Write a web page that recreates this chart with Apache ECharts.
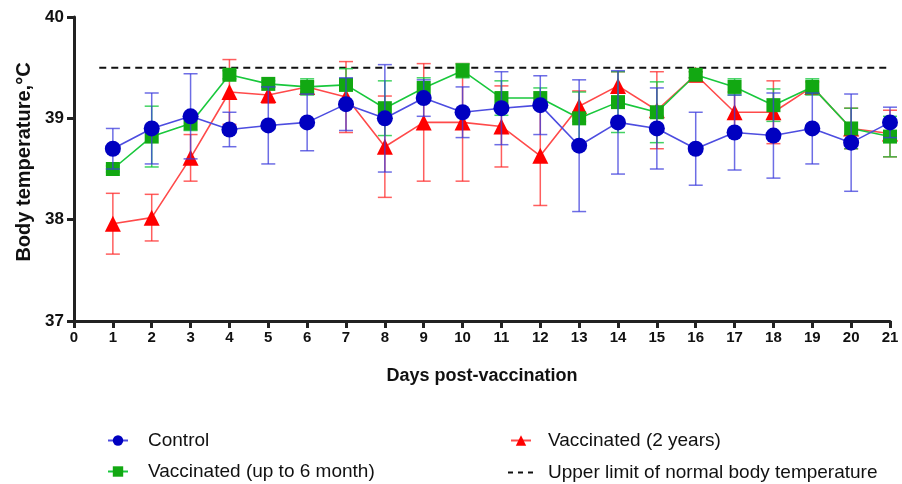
<!DOCTYPE html>
<html>
<head>
<meta charset="utf-8">
<script src="https://cdn.jsdelivr.net/npm/echarts@6/dist/echarts.min.js"></script>
<style>
  html, body { margin: 0; padding: 0; background: #fff; }
  #chart { width: 902px; height: 484px; }
</style>
</head>
<body>
<div id="chart"></div>
<script>
  // days post-vaccination
  const days = [1, 2, 3, 4, 5, 6, 7, 8, 9, 10, 11, 12, 13, 14, 15, 16, 17, 18, 19, 20, 21];

  // Control group: mean and SD
  const controlMean = [38.70, 38.90, 39.02, 38.89, 38.93, 38.96, 39.14, 39.00, 39.20, 39.06, 39.10, 39.13, 38.73, 38.96, 38.90, 38.70, 38.86, 38.83, 38.90, 38.76, 38.96];
  const controlSd = [0.20, 0.35, 0.42, 0.17, 0.38, 0.28, 0.26, 0.53, 0.18, 0.25, 0.36, 0.29, 0.65, 0.51, 0.40, 0.36, 0.37, 0.42, 0.35, 0.48, 0.15];

  // Vaccinated (up to 6 month)
  const sixMonthMean = [38.50, 38.82, 38.95, 39.43, 39.34, 39.31, 39.33, 39.10, 39.30, 39.47, 39.20, 39.20, 39.00, 39.16, 39.06, 39.43, 39.31, 39.13, 39.31, 38.90, 38.82];
  const sixMonthSd = [0.03, 0.30, 0.07, 0.04, 0.03, 0.08, 0.16, 0.27, 0.10, 0.07, 0.17, 0.10, 0.26, 0.30, 0.30, 0.03, 0.08, 0.16, 0.08, 0.20, 0.20];

  // Vaccinated (2 years)
  const twoYearMean = [37.96, 38.02, 38.61, 39.26, 39.23, 39.31, 39.21, 38.72, 38.96, 38.96, 38.92, 38.63, 39.12, 39.32, 39.08, 39.43, 39.06, 39.06, 39.31, 38.90, 38.85];
  const twoYearSd = [0.30, 0.23, 0.23, 0.32, 0.08, 0.05, 0.35, 0.50, 0.58, 0.58, 0.40, 0.49, 0.15, 0.14, 0.38, 0.03, 0.20, 0.31, 0.05, 0.20, 0.23];

  // upper limit of normal body temperature
  const upperLimit = 39.5;
  const upperLimitRange = [0.65, 20.95];

  const xTicks = { min: 0, max: 21, interval: 1 };
  const yTicks = { min: 37, max: 40, interval: 1 };

  const names = {
    control: 'Control',
    sixMonth: 'Vaccinated (up to 6 month)',
    twoYear: 'Vaccinated (2 years)',
    limit: 'Upper limit of normal body temperature',
  };

  const chart = echarts.init(document.getElementById('chart'), null, { renderer: 'canvas' });

  const toPoints = (mean) => days.map((d, i) => [d, mean[i]]);
  const toBars = (mean, sd) => days.map((d, i) => [d, mean[i] - sd[i], mean[i] + sd[i]]);

  /** 误差线：竖线 + 上下横帽 */
  const errorBarSeries = (name, mean, sd, color, z) => ({
    name: name + ' SD',
    type: 'custom',
    z: z,
    silent: true,
    data: toBars(mean, sd),
    renderItem: (params, api) => {
      const x = api.value(0);
      const lo = api.coord([x, api.value(1)]);
      const hi = api.coord([x, api.value(2)]);
      const half = 7;
      const style = { stroke: color, lineWidth: 1.5, fill: null };
      return {
        type: 'group',
        children: [
          { type: 'line', shape: { x1: hi[0], y1: hi[1], x2: lo[0], y2: lo[1] }, style },
          { type: 'line', shape: { x1: hi[0] - half, y1: hi[1], x2: hi[0] + half, y2: hi[1] }, style },
          { type: 'line', shape: { x1: lo[0] - half, y1: lo[1], x2: lo[0] + half, y2: lo[1] }, style },
        ],
      };
    },
  });

  const lineSeries = (name, mean, lineColor, markColor, symbol, size, z) => ({
    name: name,
    type: 'line',
    z: z,
    data: toPoints(mean),
    symbol: symbol,
    symbolSize: size,
    showAllSymbol: true,
    lineStyle: { color: lineColor, width: 1.6 },
    itemStyle: { color: markColor, borderWidth: 0 },
  });

  const legendBase = {
    orient: 'horizontal',
    itemWidth: 20,
    itemHeight: 13,
    itemGap: 10,
    textStyle: { fontFamily: 'Liberation Sans', fontSize: 19, color: '#111', padding: [0, 0, 0, 15] },
  };

  const option = {
    animation: false,
    backgroundColor: '#fff',
    grid: { left: 74, right: 12, top: 17, bottom: 163, containLabel: false },
    xAxis: {
      type: 'value',
      min: xTicks.min,
      max: xTicks.max,
      interval: xTicks.interval,
      name: 'Days post-vaccination',
      nameLocation: 'middle',
      nameGap: 46,
      nameTextStyle: { fontFamily: 'Liberation Sans', fontWeight: 'bold', fontSize: 18, color: '#111' },
      axisLine: { show: true, lineStyle: { color: '#222', width: 3 } },
      axisTick: { show: true, length: 7, lineStyle: { color: '#222', width: 3 } },
      axisLabel: { fontFamily: 'Liberation Sans', fontWeight: 'bold', fontSize: 15, color: '#111', margin: 9 },
      splitLine: { show: false },
    },
    yAxis: {
      type: 'value',
      min: yTicks.min,
      max: yTicks.max,
      interval: yTicks.interval,
      name: 'Body temperature,°C',
      nameLocation: 'middle',
      nameGap: 38,
      nameTextStyle: { fontFamily: 'Liberation Sans', fontWeight: 'bold', fontSize: 20, color: '#111', padding: [0, 0, 0, 14] },
      axisLine: { show: true, lineStyle: { color: '#222', width: 3 } },
      axisTick: { show: true, length: 7, lineStyle: { color: '#222', width: 3 } },
      axisLabel: { fontFamily: 'Liberation Sans', fontWeight: 'bold', fontSize: 17, color: '#111', margin: 10 },
      splitLine: { show: false },
    },
    legend: [
      { ...legendBase, left: 102, top: 426, data: [names.control] },
      { ...legendBase, left: 102, top: 457, data: [names.sixMonth] },
      {
        ...legendBase,
        left: 505,
        top: 426,
        textStyle: { ...legendBase.textStyle, padding: [0, 0, 0, 12] },
        data: [names.twoYear],
      },
      {
        ...legendBase,
        left: 503,
        top: 458,
        itemWidth: 25,
        itemHeight: 2,
        textStyle: { ...legendBase.textStyle, padding: [0, 0, 0, 10] },
        data: [{ name: names.limit, icon: 'path://M0,0h5v2h-5z M10,0h5v2h-5z M20,0h5v2h-5z' }],
      },
    ],
    series: [
      {
        name: names.limit,
        type: 'line',
        z: 1,
        data: upperLimitRange.map(x => [x, upperLimit]),
        symbol: 'none',
        lineStyle: { color: '#111', width: 2, type: [7, 5] },
        itemStyle: { color: '#111' },
      },
      errorBarSeries(names.twoYear, twoYearMean, twoYearSd, 'rgba(255, 40, 40, 0.75)', 2),
      lineSeries(names.twoYear, twoYearMean, '#ff4a4a', '#ff0000', 'triangle', 16, 3),
      errorBarSeries(names.sixMonth, sixMonthMean, sixMonthSd, 'rgba(20, 200, 60, 0.8)', 4),
      lineSeries(names.sixMonth, sixMonthMean, '#19c83c', '#12a812', 'rect', 14, 5),
      errorBarSeries(names.control, controlMean, controlSd, 'rgba(60, 60, 220, 0.75)', 6),
      lineSeries(names.control, controlMean, '#4d4de0', '#0000c0', 'circle', 16, 7),
    ],
  };

  chart.setOption(option);
</script>
</body>
</html>
